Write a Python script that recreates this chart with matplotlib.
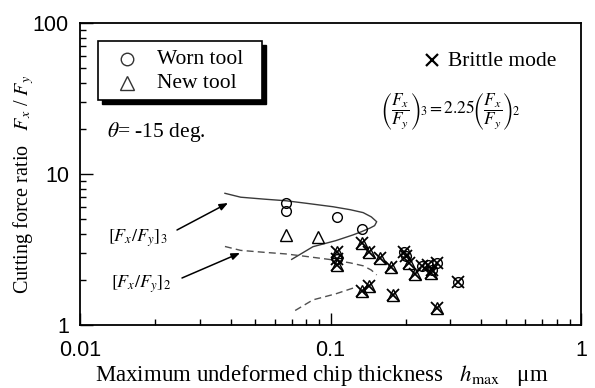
import matplotlib
matplotlib.use("Agg")
import matplotlib.pyplot as plt
from matplotlib.lines import Line2D
from matplotlib.patches import Rectangle
import numpy as np

# ---- data -------------------------------------------------------------
# ductile-mode measurements
worn_h = [0.0664, 0.0664, 0.106, 0.134]
worn_ratio = [6.45, 5.73, 5.17, 4.31]
new_h = [0.0665, 0.0889]
new_ratio = [3.95, 3.81]

# brittle-mode measurements (new tool / worn tool)
brittle_new_h = [0.106, 0.106, 0.133, 0.142, 0.158, 0.175, 0.217, 0.205, 0.251,
                 0.133, 0.142, 0.178, 0.266]
brittle_new_ratio = [3.06, 2.50, 3.48, 3.06, 2.76, 2.43, 2.17, 2.56, 2.20,
                     1.68, 1.80, 1.58, 1.29]
brittle_worn_h = [0.106, 0.196, 0.200, 0.232, 0.245, 0.266, 0.255, 0.324]
brittle_worn_ratio = [2.75, 3.06, 2.85, 2.45, 2.50, 2.56, 2.32, 1.94]

# predicted force ratio [Fx/Fy]3 along h_max
curve_h = [0.0379, 0.0438, 0.0547, 0.0664, 0.080, 0.1023, 0.120, 0.135, 0.1455,
           0.1529, 0.150, 0.144, 0.133, 0.123, 0.105, 0.0851, 0.070]
curve_r3 = [7.45, 7.02, 6.81, 6.65, 6.40, 6.07, 5.80, 5.55, 5.20,
            4.83, 4.55, 4.39, 4.15, 3.95, 3.62, 3.30, 2.72]
ratio_factor = 2.25   # (Fx/Fy)3 = 2.25 (Fx/Fy)2

x_ticks = [0.01, 0.1, 1]
x_ticklabels = ["0.01", "0.1", "1"]
y_ticks = [1, 10, 100]
y_ticklabels = ["1", "10", "100"]
legend_labels = ["Worn tool", "New tool"]

# ---- style ------------------------------------------------------------
plt.rcParams["font.family"] = ["Liberation Serif", "DejaVu Serif"]
plt.rcParams["mathtext.fontset"] = "stix"

W, H = 595, 388
fig = plt.figure(figsize=(W / 100, H / 100), dpi=100)
fig.patch.set_facecolor("white")


def fpos(px, py):
    return px / W, 1 - py / H


L, T, R, B = 80, 23, 581, 325
ax = fig.add_axes([L / W, 1 - B / H, (R - L) / W, (B - T) / H])
ax.set_xscale("log")
ax.set_yscale("log")
ax.set_xlim(0.01, 1)
ax.set_ylim(1, 100)

for s in ax.spines.values():
    s.set_linewidth(1.3)
    s.set_color("black")

ax.set_xticks(x_ticks)
ax.set_xticklabels(x_ticklabels)
ax.set_yticks(y_ticks)
ax.set_yticklabels(y_ticklabels)
ax.tick_params(which="major", direction="in", length=9, width=1.0, top=False,
               right=False, labelsize=15.5)
ax.tick_params(axis="x", which="major", pad=11)
ax.tick_params(axis="y", which="major", pad=8)
ax.tick_params(which="minor", direction="in", length=4, width=1.0, top=False,
               right=False)
for lab in ax.get_xticklabels() + ax.get_yticklabels():
    lab.set_fontfamily("Liberation Sans")

# ---- curves -----------------------------------------------------------
ch = np.array(curve_h)
c3 = np.array(curve_r3)
c2 = c3 / ratio_factor
ax.plot(ch, c3, color="#3a3a3a", lw=1.0, zorder=2)
ax.plot(ch[:10], c2[:10], color="#505050", lw=1.0, ls=(0, (5, 3)), zorder=2)
ax.plot(ch[13:], c2[13:], color="#505050", lw=1.0, ls=(0, (5, 3)), zorder=2)

# ---- points -----------------------------------------------------------
mk = dict(ls="none", mfc="none", mec="black", zorder=3)
ax.plot(worn_h, worn_ratio, marker="o", ms=7, mew=1.0, **mk)
ax.plot(new_h, new_ratio, marker="^", ms=8, mew=1.0, **mk)
ax.plot(brittle_new_h, brittle_new_ratio, marker="^", ms=8, mew=1.0, **mk)
ax.plot(brittle_worn_h, brittle_worn_ratio, marker="o", ms=7, mew=1.0, **mk)
ax.plot(brittle_new_h + brittle_worn_h, brittle_new_ratio + brittle_worn_ratio,
        marker="x", ms=8, mew=1.3, **mk)

# ---- legend box with drop shadow -------------------------------------
bx0, by0, bx1, by1 = 98, 41, 262, 100
shadow = Rectangle(fpos(bx0 + 4, by1 + 4), (bx1 - bx0) / W, (by1 - by0) / H,
                   transform=fig.transFigure, facecolor="black", edgecolor="black",
                   zorder=5)
box = Rectangle(fpos(bx0, by1), (bx1 - bx0) / W, (by1 - by0) / H,
                transform=fig.transFigure, facecolor="white", edgecolor="black",
                lw=1.2, zorder=6)
fig.patches.extend([shadow, box])
for (mrk, ms), label, yy in zip([("o", 9), ("^", 10)], legend_labels, [59, 83]):
    fig.add_artist(Line2D([fpos(127, yy)[0]], [fpos(127, yy)[1]], marker=mrk, ms=ms,
                          mfc="none", mec="#333", mew=1.0, ls="none",
                          transform=fig.transFigure, zorder=7))
    fig.text(*fpos(157, yy), label, fontsize=15.5, va="center", ha="left", zorder=7)

# brittle-mode key
fig.add_artist(Line2D([fpos(432, 60)[0]], [fpos(432, 60)[1]], marker="x", ms=9,
                      mew=1.6, color="black", ls="none", transform=fig.transFigure))
fig.text(*fpos(448, 61), "Brittle mode", fontsize=15.5, va="center", ha="left")

fig.text(*fpos(107, 132), r"$\theta$= -15 deg.", fontsize=15.5, va="center", ha="left")

fig.text(*fpos(450, 112),
         r"$\left(\dfrac{F_x}{F_y}\right)_{\!3}{=}2.25\!\left(\dfrac{F_x}{F_y}\right)_{\!2}$",
         fontsize=12.5, va="center", ha="center")

# ---- curve annotations -------------------------------------------------
fig.text(*fpos(108, 238), r"$[F_x/F_y]_3$", fontsize=13, va="center", ha="left")
fig.text(*fpos(111, 284), r"$[F_x/F_y]_2$", fontsize=13, va="center", ha="left")
arrow = dict(arrowstyle="-|>,head_length=0.5,head_width=0.2", color="black", lw=1.1,
             shrinkA=0, shrinkB=0)
ax.annotate("", xy=fpos(228, 203), xycoords="figure fraction",
            xytext=fpos(177, 230), textcoords="figure fraction", arrowprops=arrow)
ax.annotate("", xy=fpos(240, 253), xycoords="figure fraction",
            xytext=fpos(182, 278), textcoords="figure fraction", arrowprops=arrow)

# ---- axis titles -------------------------------------------------------
fig.text(*fpos(322, 381), r"Maximum undeformed chip thickness   $h_{\rm max}$   μm",
         fontsize=16.5, ha="center", va="baseline")
fig.text(*fpos(24, 184), r"Cutting force ratio   $F_x$ / $F_y$", fontsize=14.5,
         rotation=90, ha="center", va="center")

fig.savefig("out.png", dpi=100)
